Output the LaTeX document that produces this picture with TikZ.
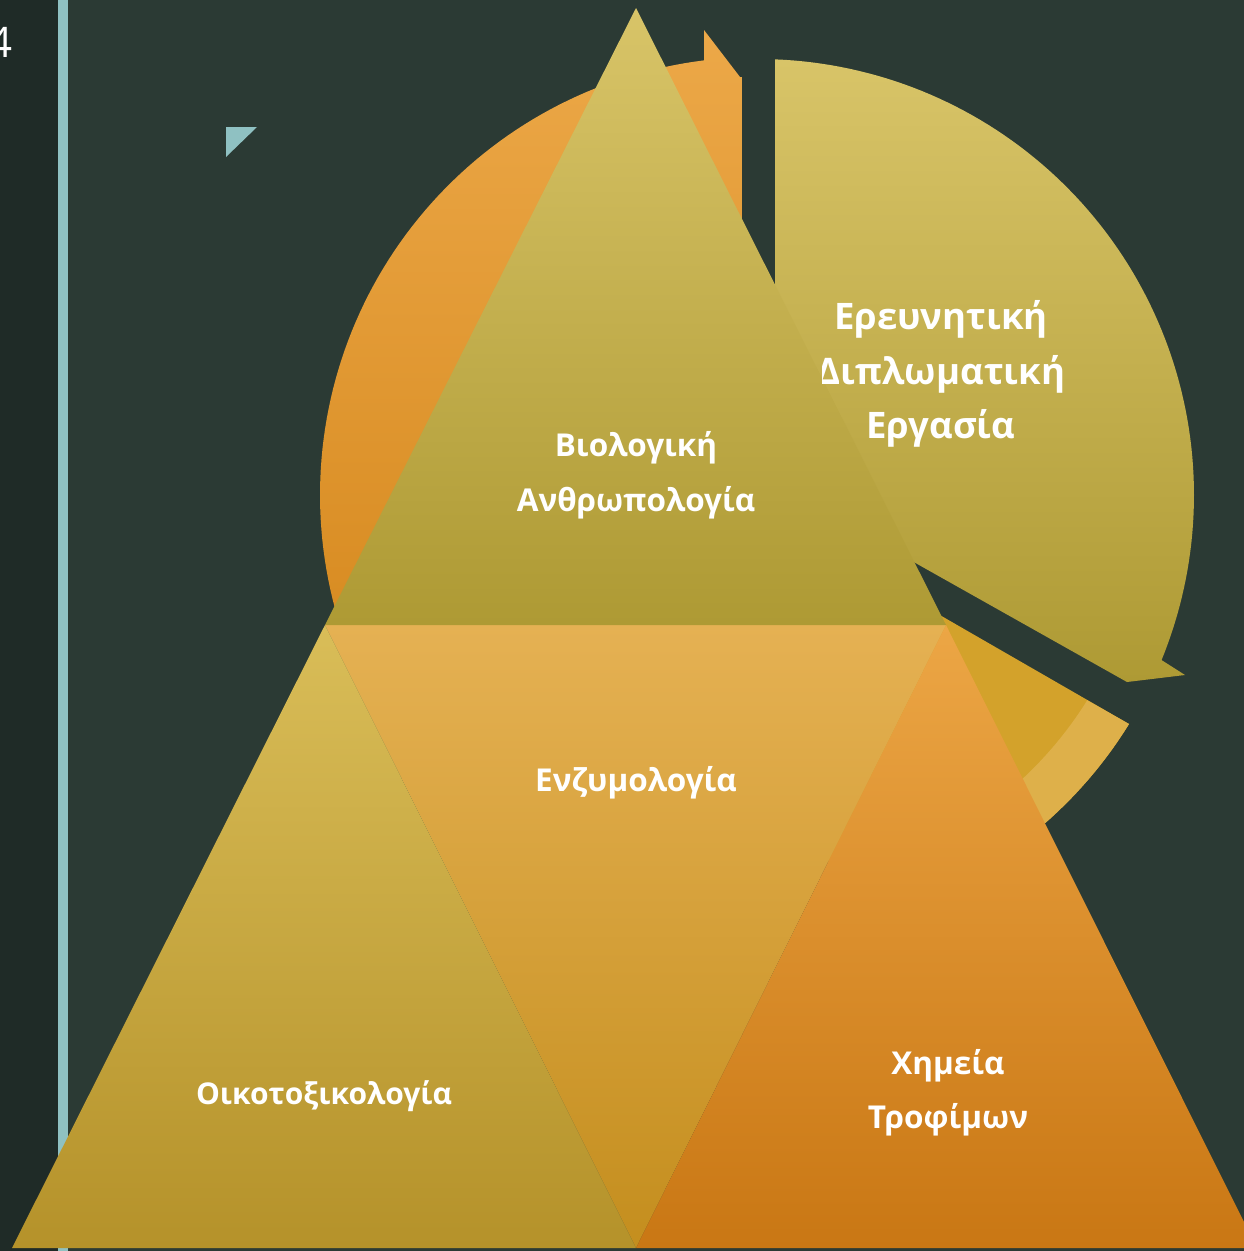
\documentclass[tikz,border=0pt]{standalone}
\usepackage{fontspec}
\setmainfont{Open Sans}
\definecolor{bgmain}{HTML}{2B3A34}
\definecolor{bgleft}{HTML}{1F2B27}
\definecolor{tealc}{HTML}{8FC1C2}
\definecolor{yelT}{HTML}{D8C468}
\definecolor{yelB}{HTML}{AE9A34}
\definecolor{orT}{HTML}{ECA848}
\definecolor{orB}{HTML}{D4861A}
\definecolor{midT}{HTML}{E5B153}
\definecolor{midB}{HTML}{C48E1E}
\definecolor{blT}{HTML}{D9BD58}
\definecolor{blB}{HTML}{B5922A}
\definecolor{brT}{HTML}{ECA645}
\definecolor{brB}{HTML}{C97714}
\definecolor{goldIn}{HTML}{D3A22B}
\definecolor{goldRing}{HTML}{DEB04A}
\tikzset{
  lbl/.style={text=white, font=\fontsize{31.5}{38}\selectfont\bfseries, inner sep=0, anchor=base},
  lblbig/.style={lbl, font=\fontsize{36.5}{44}\selectfont\bfseries},
  pgnum/.style={text=white, font=\fontsize{42}{42}\selectfont, inner sep=0, anchor=base east}
}
\begin{document}
\begin{tikzpicture}[x=1pt,y=-1pt]
\useasboundingbox (0,0) rectangle (1244,1251);
% background
\fill[bgmain] (0,0) rectangle (1244,1251);
\fill[bgleft] (0,0) rectangle (58,1251);
\fill[tealc] (58,0) rectangle (68,1251);
\fill[tealc] (226,127) -- (257,127) -- (226,157) -- cycle;
\node[pgnum] (pg) at (13,57) {4};
% orange sector (arrow ends at top)
\shade[top color=orT, bottom color=orB]
  (742,495) -- (742,77) -- (740,77) -- (704,30) -- (704,63)
  -- plot[domain=0:1, samples=90] ({758+438*cos(-97.1-117.9*\x)},{495+438*sin(-97.1-117.9*\x)})
  -- cycle;
% gold sector (lower right)
\fill[goldIn] (800,534.5) -- (1129,724)
  -- plot[domain=0:1, samples=60] ({758+436*cos(31.7+48.3*\x)},{495+436*sin(31.7+48.3*\x)})
  -- cycle;
\fill[goldRing] (1087.3,700.3) -- (1129,724)
  -- plot[domain=0:1, samples=60] ({758+436*cos(31.7+48.3*\x)},{495+436*sin(31.7+48.3*\x)})
  -- plot[domain=0:1, samples=60] ({758+388*cos(80-48.1*\x)},{495+388*sin(80-48.1*\x)})
  -- cycle;
% yellow sector (arrow ends lower right)
\shade[top color=yelT, bottom color=yelB]
  (775,484) -- (775,59.3)
  -- plot[domain=0:1, samples=90] ({758+436*cos(-87.77+110.07*\x)},{495+436*sin(-87.77+110.07*\x)})
  -- (1185,675) -- (1127,682) -- cycle;
% triangles
\shade[top color=midT, bottom color=midB] (325,625) -- (946,625) -- (636,1248) -- cycle;
\shade[top color=blT, bottom color=blB] (325,625) -- (12,1248) -- (636,1248) -- cycle;
\shade[top color=brT, bottom color=brB] (946,625) -- (636,1248) -- (1257,1248) -- cycle;
\shade[top color=yelT, bottom color=yelB] (636,8) -- (946,625) -- (325,625) -- cycle;
% labels
\node[lbl] (bio1) at (636,456.5) {Βιολογική};
\node[lbl] (bio2) at (636,511.5) {Ανθρωπολογία};
\node[lbl] (enz) at (636,791) {Ενζυμολογία};
\node[lbl, font=\fontsize{30}{36}\selectfont\bfseries] (oiko) at (324,1104) {Οικοτοξικολογία};
\node[lbl] (xim1) at (948,1074) {Χημεία};
\node[lbl] (xim2) at (948,1128) {Τροφίμων};
\begin{scope}
\clip (822,260) rectangle (1120,470);
\node[lblbig] (er1) at (941,329) {Ερευνητική};
\node[lblbig] (er2) at (941,384) {Διπλωματική};
\node[lblbig] (er3) at (941,438) {Εργασία};
\end{scope}
\end{tikzpicture}
\end{document}
